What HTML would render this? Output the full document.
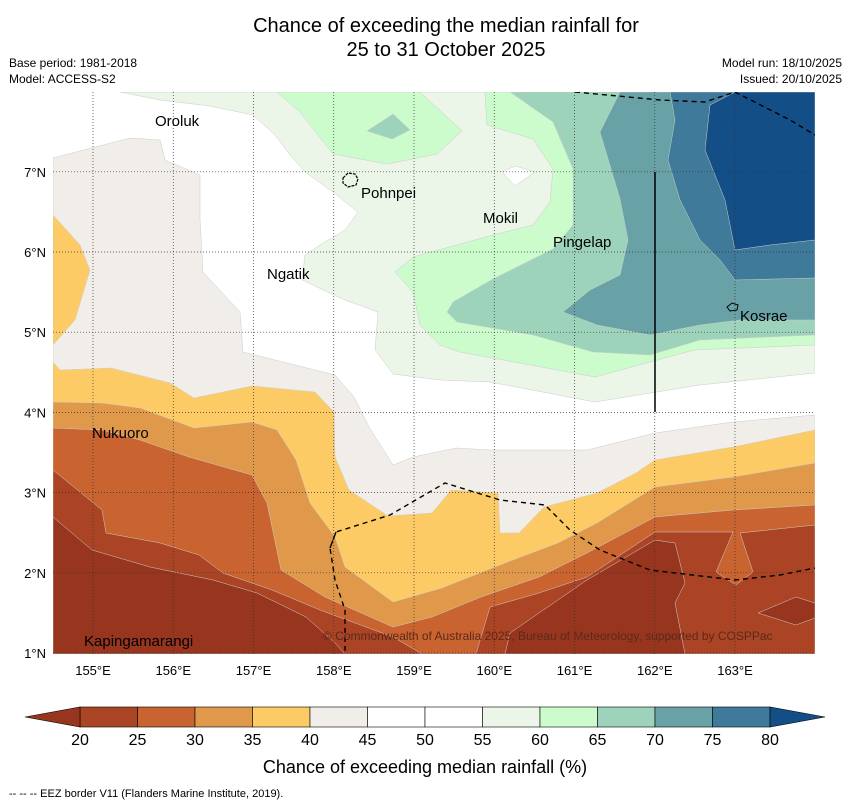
<!DOCTYPE html>
<html><head><meta charset="utf-8">
<style>
body{margin:0;background:#fff;width:850px;height:804px;overflow:hidden;font-family:"Liberation Sans","DejaVu Sans",sans-serif;position:relative}
.t{position:absolute;color:#000}
</style></head>
<body>
<div class="t" style="left:0;width:892px;top:14px;text-align:center;font-size:20px;line-height:24px">Chance of exceeding the median rainfall for<br>25 to 31 October 2025</div>
<div class="t" style="left:9px;top:55px;font-size:12px;line-height:16px">Base period: 1981-2018<br>Model: ACCESS-S2</div>
<div class="t" style="right:8px;top:55px;font-size:12px;line-height:16px;text-align:right">Model run: 18/10/2025<br>Issued: 20/10/2025</div>
<svg width="850" height="804" style="position:absolute;left:0;top:0">
<defs><clipPath id="mc"><rect x="53" y="92" width="762" height="562"/></clipPath></defs>
<g clip-path="url(#mc)" id="map" stroke="#ccc" stroke-width="0.5">
<rect x="53" y="92" width="762" height="562" fill="#fff" stroke="none"/>
<polygon fill="#f1ede8" points="53,158 130,138 160,140 165,160 200,175 200,219 203,272 240,312 243,352 255,355 335,375 354,397 369,427 393,465 413,457 456,448 490,450 587,450 655,433 733,422 815,415 815,654 53,654"/>
<polygon fill="#fdcb65" points="53,215 80,245 90,270 75,320 53,345"/>
<polygon fill="#fdcb65" points="53,362 60,370 111,368 170,383 194,398 252,386 315,392 334,412 335,457 349,490 388,516 432,513 451,490 498,493 500,533 519,533 544,507 597,493 636,473 655,460 733,447 815,430 815,654 53,654"/>
<polygon fill="#e0994a" points="53,402 102,403 140,408 194,428 252,422 277,430 296,460 310,503 335,537 345,567 393,602 442,588 505,563 558,543 597,523 655,487 733,477 815,463 815,654 53,654"/>
<polygon fill="#c9632f" points="53,428 102,430 140,440 189,457 252,475 267,503 281,570 325,597 393,627 432,617 481,597 539,577 587,553 655,517 733,510 815,505 815,654 53,654"/>
<polygon fill="#ab4424" points="53,470 102,510 106,533 160,543 199,555 223,573 272,590 320,610 393,637 422,654 53,654"/>
<polygon fill="#ab4424" points="476,654 490,607 539,593 587,577 655,532 733,532 716,572 736,585 753,572 740,533 815,525 815,654"/>
<polygon fill="#98351f" points="53,517 92,550 150,567 213,580 257,593 306,617 335,643 345,654 53,654"/>
<polygon fill="#98351f" points="505,654 510,633 539,613 587,580 655,540 675,543 685,583 675,603 685,654"/>
<polygon fill="#98351f" points="758,613 796,597 815,603 815,618 796,625"/>
<polygon fill="#ebf5e8" points="120,92 160,100 210,106 253,115 275,135 290,155 305,172 333,192 358,212 345,230 320,245 305,255 302,280 345,300 378,312 375,350 393,374 440,380 490,382 595,402 700,385 815,373 815,92"/>
<polygon fill="#ccfbcc" points="277,92 300,112 333,154 387,164 437,154 462,131 420,92"/>
<polygon fill="#ccfbcc" points="485,92 487,125 533,139 553,169 550,202 533,225 493,235 413,257 395,272 413,292 420,325 440,345 460,352 595,377 694,350 815,345 815,92"/>
<polygon fill="#9dd3bb" points="367,131 393,114 410,130 392,139"/>
<polygon fill="#fff" points="502,172 515,166 535,172 515,186"/>
<polygon fill="#9dd3bb" points="510,92 553,122 573,169 573,225 553,249 493,279 453,302 447,312 457,322 533,335 593,352 650,355 700,340 815,335 815,92"/>
<polygon fill="#68a2a6" points="620,92 600,132 620,199 628,240 620,275 590,290 563,312 597,325 650,335 700,325 740,320 815,320 815,92"/>
<polygon fill="#3f7a9b" points="670,92 675,120 668,160 680,200 700,240 720,260 735,280 815,278 815,92"/>
<polygon fill="#134e87" points="735,92 710,105 705,150 725,200 735,250 770,245 815,240 815,92"/>
</g>
<g id="grid" stroke="#333" stroke-width="0.7" stroke-dasharray="1,2"></g>
<g fill="none" stroke="#000" stroke-width="1.4" stroke-dasharray="5,4" clip-path="url(#mc)">
<polyline points="575,92 660,100 705,102 735,92 790,120 815,135"/>
<polyline points="330,548 336,532 390,515 445,483 500,500 545,505 570,530 600,550 650,570 735,580 780,575 815,568"/>
<polyline points="336,532 330,548 335,580 345,610 345,654"/>
</g>
<line x1="655" y1="172" x2="655" y2="412" stroke="#000" stroke-width="1.5"/>
<path d="M343,178 l5,-5 7,1 3,5 -2,6 -8,2 -5,-4z" fill="none" stroke="#000" stroke-width="1.2" stroke-dasharray="3,1"/>
<path d="M727,307 l5,-4 6,2 -1,5 -7,1z" fill="none" stroke="#000" stroke-width="1"/>
<g font-size="15" fill="#000">
<text x="155" y="126">Oroluk</text><text x="361" y="198">Pohnpei</text><text x="483" y="223">Mokil</text>
<text x="553" y="247">Pingelap</text><text x="267" y="279">Ngatik</text><text x="740" y="321">Kosrae</text>
<text x="92" y="438">Nukuoro</text><text x="84" y="646">Kapingamarangi</text>
</g>
<text x="323" y="640" font-size="12" fill="#5a2a1a">© Commonwealth of Australia 2025, Bureau of Meteorology, supported by COSPPac</text>
<g id="axes" font-size="13" fill="#000"></g>
<g id="cbar"></g>
<text x="425" y="773" text-anchor="middle" font-size="18">Chance of exceeding median rainfall (%)</text>
<text x="9" y="797" font-size="11">--  --  -- EEZ border V11 (Flanders Marine Institute, 2019).</text>
</svg>
<script>
const lonTicks=[155,156,157,158,159,160,161,162,163];
const latTicks=[1,2,3,4,5,6,7];
const levels=[20,25,30,35,40,45,50,55,60,65,70,75,80];
const binColors=["#ab4424","#c9632f","#e0994a","#fdcb65","#f1ede8","#fff","#fff","#ebf5e8","#ccfbcc","#9dd3bb","#68a2a6","#3f7a9b"];
const underColor="#98351f", overColor="#134e87";
const NS="http://www.w3.org/2000/svg";
const lx=v=>93+(v-155)*80.25, ly=v=>653-(v-1)*80.2;
const cx=v=>80+(v-20)*(690/60);
function mk(t,a,p){const e=document.createElementNS(NS,t);for(const k in a)e.setAttribute(k,a[k]);p.appendChild(e);return e;}
const g=document.getElementById('grid'),ax=document.getElementById('axes'),cb=document.getElementById('cbar');
lonTicks.forEach(v=>{const l=mk('line',{x1:lx(v),x2:lx(v),y1:92,y2:654},g);


const t=mk('text',{x:lx(v),y:675,'text-anchor':'middle'},ax);t.textContent=v+'°E';

});
latTicks.forEach(v=>{const l=mk('line',{x1:53,x2:815,y1:ly(v),y2:ly(v)},g);


const t=mk('text',{x:46,y:ly(v)+5,'text-anchor':'end'},ax);t.textContent=v+'°N';

});
binColors.forEach((c,i)=>{const r=mk('rect',{x:cx(levels[i]),y:707,width:cx(levels[i+1])-cx(levels[i]),height:20,fill:c,stroke:'#000','stroke-width':0.6},cb);

});
const u=mk('polygon',{points:`${cx(20)},707 ${cx(20)},727 25,717`,fill:underColor,stroke:'#000','stroke-width':0.6},cb);


const o=mk('polygon',{points:`${cx(80)},707 ${cx(80)},727 825,717`,fill:overColor,stroke:'#000','stroke-width':0.6},cb);


levels.forEach((v,i)=>{const t=mk('text',{x:cx(v),y:745,'text-anchor':'middle','font-size':16},cb);t.textContent=v;

});
</script>
</body></html>
